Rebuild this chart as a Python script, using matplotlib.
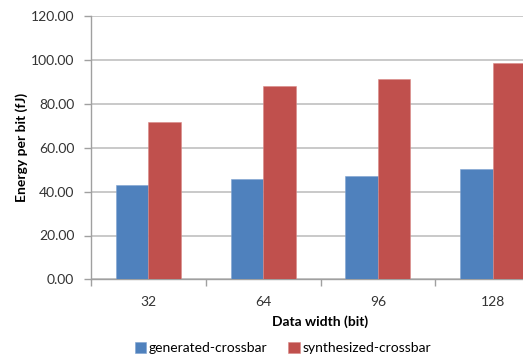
import numpy as np
import matplotlib.pyplot as plt
from matplotlib.ticker import FixedLocator

plt.rcParams['font.family'] = ['Lato', 'DejaVu Sans']

widths = ['32', '64', '96', '128']
generated = [43.0, 45.7, 47.1, 50.3]
synthesized = [71.6, 88.1, 91.5, 98.8]
names = ['generated-crossbar', 'synthesized-crossbar']
colors = ['#4F81BD', '#C0504D']

fig = plt.figure(figsize=(5.23, 3.6), dpi=100)
ax = fig.add_axes([91/523, 0.224, (550-91)/523, 0.731])

x = np.arange(len(widths))
w = 0.283
b1 = ax.bar(x - w/2, generated, w, color=colors[0], edgecolor='#7FA3D1', linewidth=0.4, label=names[0], zorder=3)
b2 = ax.bar(x + w/2, synthesized, w, color=colors[1], edgecolor='#D98A88', linewidth=0.4, label=names[1], zorder=3)

ax.set_xlim(-0.5, len(widths) - 0.5)
ax.set_ylim(0, 120)
ax.set_yticks(np.arange(0, 121, 20))
ax.set_yticklabels([f'{v:.2f}' for v in np.arange(0, 121, 20)], fontsize=10, color='#333333')
ax.set_xticks(x)
ax.set_xticklabels(widths, fontsize=10, color='#333333')
ax.xaxis.set_minor_locator(FixedLocator(np.arange(-0.5, len(widths), 1.0)))
ax.tick_params(axis='x', which='major', length=0, pad=12)
ax.tick_params(axis='x', which='minor', length=5, color='#a0a0a0', width=1)
ax.tick_params(axis='y', length=5, color='#a0a0a0', width=1, pad=7)

ax.grid(axis='y', color='#c0c0c0', linewidth=1.2, zorder=0)
ax.set_axisbelow(True)
for s in ['top', 'right']:
    ax.spines[s].set_visible(False)
for s in ['left', 'bottom']:
    ax.spines[s].set_color('#a0a0a0')
    ax.spines[s].set_linewidth(1)

ax.set_xlabel('Data width (bit)', fontsize=10, fontweight='bold', labelpad=5)
ax.set_ylabel('Energy per bit (fJ)', fontsize=10, fontweight='bold', labelpad=2)

fig.legend(handles=[b1, b2], loc='center', bbox_to_anchor=(283/523, 1 - 348/360),
           ncol=2, frameon=False, fontsize=10, handlelength=0.8, handleheight=0.8,
           handletextpad=0.2, columnspacing=1.5)

fig.savefig('out.png', dpi=100)
